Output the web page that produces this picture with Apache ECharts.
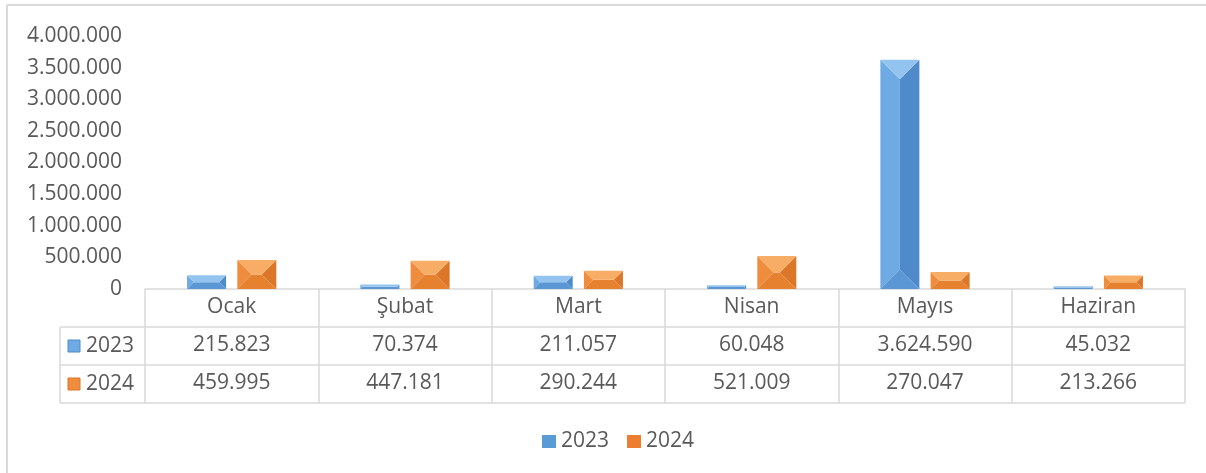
<!DOCTYPE html>
<html lang="tr">
<head>
<meta charset="UTF-8">
<title>2023 - 2024</title>
<script src="https://cdn.jsdelivr.net/npm/echarts@6/dist/echarts.min.js"></script>
<style>
  html, body { margin: 0; padding: 0; background: #fff; }
  #main { width: 1206px; height: 473px; }
</style>
</head>
<body>
<div id="main"></div>
<script>
// data
var months = ['Ocak', 'Şubat', 'Mart', 'Nisan', 'Mayıs', 'Haziran'];
var years = ['2023', '2024'];
var v2023 = [215823, 70374, 211057, 60048, 3624590, 45032];
var v2024 = [459995, 447181, 290244, 521009, 270047, 213266];
var yTicks = { min: 0, max: 4000000, interval: 500000 };

// layout
var W = 1206, H = 473;
var GL = 145, GR = 21, GT = 36, GB = 184;
var ROW = 38;
var FONT = '"Open Sans", sans-serif';
var FS = 21;
var TXT = '#595959';
var LINE = '#d9d9d9';

// bevel colours: top, left, right, bottom
var shades = [
    ['#93c4ef', '#6eaae4', '#4f8bcb', '#5a97d4'],
    ['#f8ad66', '#ef8c3d', '#dc7628', '#e6822f']
];
var baseColor = ['#5b9bd5', '#ed7d31'];

function fmt(n) {
    return String(n).replace(/\B(?=(\d{3})+(?!\d))/g, '.');
}

var rows = [v2023, v2024];

var chart = echarts.init(document.getElementById('main'));

function renderBevel(params, api) {
    var idx = api.value(0);
    var val = api.value(1);
    var band = api.size([1, 0])[0];
    var w = band * 0.225;
    var gap = band * 0.065;
    var shift = (params.seriesIndex - 0.5) * (w + gap);
    var p0 = api.coord([idx, 0]);
    var p1 = api.coord([idx, val]);
    var l = p0[0] + shift - w / 2, r = l + w;
    var b = p0[1], t = p1[1];
    var h = b - t;
    var d = Math.min(w, h) / 2;
    var c = shades[params.seriesIndex];
    function poly(pts, col) {
        return { type: 'polygon', shape: { points: pts }, style: { fill: col } };
    }
    return {
        type: 'group',
        children: [
            poly([[l, b], [l, t], [l + d, t + d], [l + d, b - d]], c[1]),
            poly([[r, t], [r, b], [r - d, b - d], [r - d, t + d]], c[2]),
            poly([[r, b], [l, b], [l + d, b - d], [r - d, b - d]], c[3]),
            poly([[l, t], [r, t], [r - d, t + d], [l + d, t + d]], c[0])
        ]
    };
}

function seriesData(arr) {
    return arr.map(function (v, i) { return [i, v]; });
}

// frame, table lines and row headers
var graphics = [
    { type: 'line', shape: { x1: 7, y1: 5, x2: W, y2: 5 }, style: { stroke: LINE, lineWidth: 2 } },
    { type: 'line', shape: { x1: 7, y1: 5, x2: 7, y2: H }, style: { stroke: LINE, lineWidth: 2 } }
];
var axisY = H - GB;
var tableLeft = 60;
for (var k = 1; k <= 3; k++) {
    graphics.push({
        type: 'line',
        shape: { x1: tableLeft, y1: axisY + ROW * k, x2: W - GR, y2: axisY + ROW * k },
        style: { stroke: LINE, lineWidth: 1.5 }
    });
}
graphics.push({
    type: 'line',
    shape: { x1: tableLeft, y1: axisY + ROW, x2: tableLeft, y2: axisY + ROW * 3 },
    style: { stroke: LINE, lineWidth: 1.5 }
});
years.forEach(function (y, i) {
    var cy = axisY + ROW * (i + 1) + ROW / 2;
    graphics.push({
        type: 'rect',
        shape: { x: 68, y: cy - 6, width: 12, height: 12 },
        style: { fill: shades[i][1], stroke: shades[i][2], lineWidth: 1 }
    });
    graphics.push({
        type: 'text',
        x: 86, y: cy,
        style: { text: y, font: FS + 'px ' + FONT, fill: TXT, verticalAlign: 'middle' }
    });
});

var xAxes = [{
    type: 'category',
    data: months,
    axisLine: { lineStyle: { color: LINE, width: 1.5 } },
    axisTick: { show: true, length: ROW * 3, lineStyle: { color: LINE, width: 1.5 } },
    axisLabel: { color: TXT, fontSize: FS, fontFamily: FONT, margin: 8 }
}];
rows.forEach(function (arr, i) {
    xAxes.push({
        type: 'category',
        data: months,
        position: 'bottom',
        offset: ROW * (i + 1),
        axisLine: { show: false },
        axisTick: { show: false },
        axisLabel: {
            color: TXT, fontSize: FS, fontFamily: FONT, margin: 8,
            formatter: function (value, index) { return fmt(arr[index]); }
        }
    });
});

chart.setOption({
    backgroundColor: '#fff',
    animation: false,
    grid: { left: GL, right: GR, top: GT, bottom: GB, containLabel: false },
    legend: {
        data: years,
        left: 537, top: 426,
        icon: 'rect',
        itemWidth: 14, itemHeight: 13,
        itemGap: 18,
        textStyle: { color: TXT, fontSize: FS, fontFamily: FONT }
    },
    xAxis: xAxes,
    yAxis: {
        type: 'value',
        min: yTicks.min, max: yTicks.max, interval: yTicks.interval,
        splitLine: { show: false },
        axisLine: { show: false },
        axisTick: { show: false },
        axisLabel: {
            color: TXT, fontSize: FS, fontFamily: FONT, margin: 23,
            formatter: function (v) { return fmt(v); }
        }
    },
    series: [
        {
            name: years[0], type: 'custom', renderItem: renderBevel,
            itemStyle: { color: baseColor[0] },
            encode: { x: 0, y: 1 }, data: seriesData(v2023)
        },
        {
            name: years[1], type: 'custom', renderItem: renderBevel,
            itemStyle: { color: baseColor[1] },
            encode: { x: 0, y: 1 }, data: seriesData(v2024)
        }
    ],
    graphic: graphics
});
</script>
</body>
</html>
